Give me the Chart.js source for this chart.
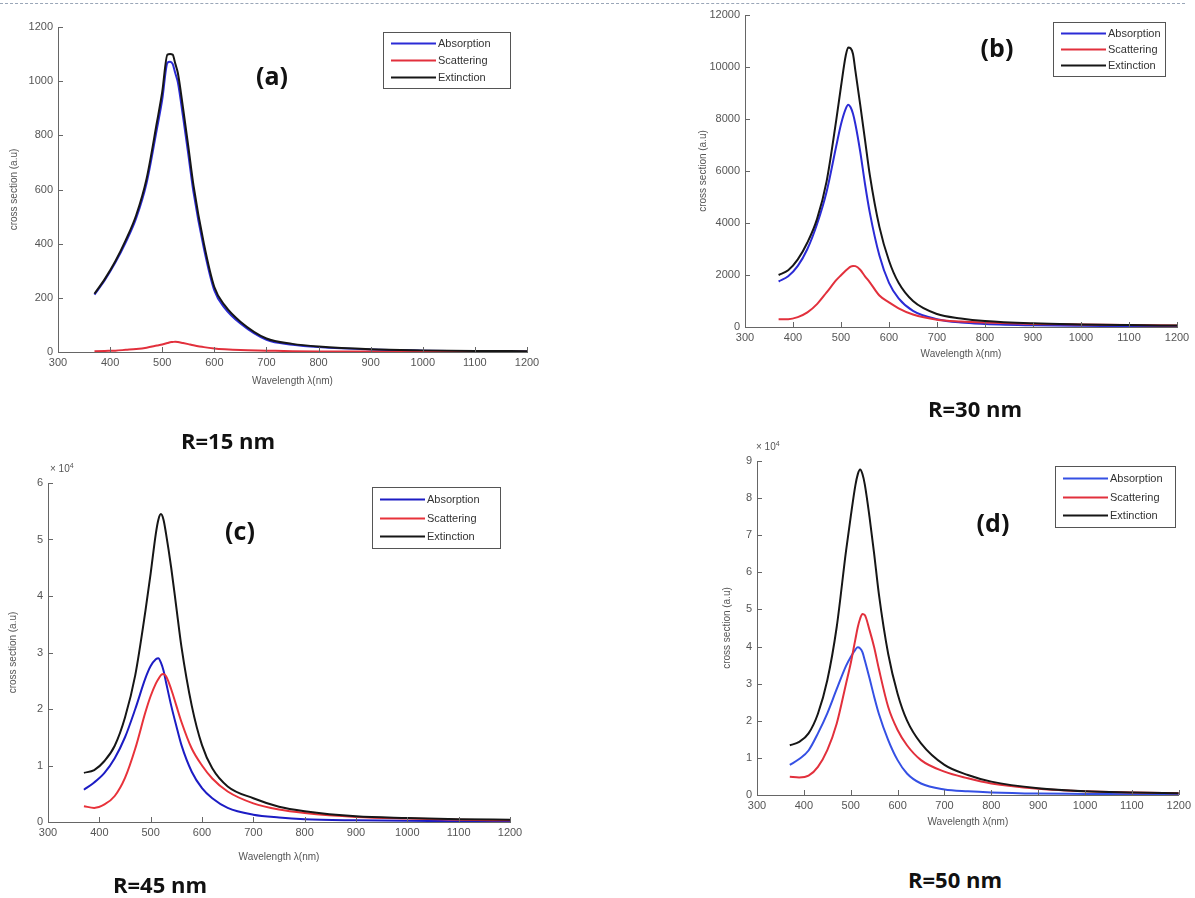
<!DOCTYPE html>
<html>
<head>
<meta charset="utf-8">
<script src="https://cdn.jsdelivr.net/npm/chart.js@4.4.1/dist/chart.umd.min.js"></script>
<style>
  body { margin: 0; background: #fff; }
  #page { position: relative; width: 1195px; height: 898px; overflow: hidden; }
  .panel { position: absolute; }
  .rule { position: absolute; left: 0; top: 3px; width: 1185px; border-top: 1px dashed #9aa6b8; }
  .tag, .size { position: absolute; transform: translate(-50%, -50%); white-space: nowrap;
    font-family: 'Open Sans', 'DejaVu Sans', sans-serif; font-weight: 700; color: #111; }
  .tag { font-size: 25px; }
  .size { font-size: 22px; }
  .mult { position: absolute; font: 10px 'Liberation Sans', Arial, sans-serif; color: #555; }
  .mult sup { font-size: 7px; }
</style>
</head>
<body>
<div id="page">
  <div class="rule"></div>

  <div class="panel" style="left:0;top:0;width:545px;height:395px"><canvas id="chartA" width="545" height="395"></canvas></div>
  <div class="panel" style="left:690px;top:0;width:505px;height:370px"><canvas id="chartB" width="505" height="370"></canvas></div>
  <div class="panel" style="left:0;top:445px;width:530px;height:425px"><canvas id="chartC" width="530" height="425"></canvas></div>
  <div class="panel" style="left:700px;top:440px;width:495px;height:400px"><canvas id="chartD" width="495" height="400"></canvas></div>

  <div class="tag" style="left:272px;top:75px">(a)</div>
  <div class="tag" style="left:997px;top:47px">(b)</div>
  <div class="tag" style="left:240px;top:530px">(c)</div>
  <div class="tag" style="left:993px;top:522px">(d)</div>

  <div class="size" style="left:228px;top:440px">R=15 nm</div>
  <div class="size" style="left:975px;top:408px">R=30 nm</div>
  <div class="size" style="left:160px;top:884px">R=45 nm</div>
  <div class="size" style="left:955px;top:879px">R=50 nm</div>

  <div class="mult" style="left:50px;top:462px">× 10<sup>4</sup></div>
  <div class="mult" style="left:756px;top:440px">× 10<sup>4</sup></div>
</div>

<script>
// wavelength samples (nm), shared by all four panels
const wavelength = [370, 390, 410, 430, 450, 470, 490, 500, 510, 515, 520, 525, 530, 540, 550,
  560, 580, 600, 620, 650, 700, 750, 800, 900, 1000, 1100, 1200];

const seriesNames = ['Absorption', 'Scattering', 'Extinction'];

// R = 15 nm
const absA = [212, 266, 330, 405, 494, 624, 826, 932, 1068, 1072, 1064, 1030, 996, 868, 731,
  590, 382, 227, 162, 105, 45, 27, 18, 9, 5, 3, 2];
const scatA = [3, 4, 5, 8, 11, 16, 24, 28, 33, 36, 37, 38, 37, 33, 29,
  25, 18, 13, 10, 7, 5, 3, 2, 1.5, 1, 1, 0.5];
const extA = [215, 270, 335, 413, 505, 640, 850, 960, 1098, 1100, 1098, 1065, 1030, 900, 760,
  615, 400, 240, 172, 112, 50, 30, 20, 10, 6, 4, 3];

// R = 30 nm
const absB = [1750, 1950, 2350, 3000, 3950, 5200, 6950, 7800, 8400, 8550, 8450, 8200, 7800, 6750, 5500,
  4400, 2750, 1700, 1100, 620, 300, 170, 120, 70, 45, 30, 20];
const scatB = [300, 300, 380, 560, 880, 1330, 1800, 1990, 2170, 2250, 2320, 2350, 2340, 2200, 1950,
  1720, 1210, 950, 720, 480, 280, 210, 170, 120, 100, 80, 60];
const extB = [2000, 2180, 2600, 3250, 4150, 5600, 7950, 9250, 10450, 10750, 10720, 10500, 9850, 8550, 7200,
  5850, 3850, 2550, 1700, 1000, 500, 330, 230, 140, 100, 75, 55];

// R = 45 nm (x 10^4)
const absC = [0.57, 0.7, 0.87, 1.13, 1.5, 2.0, 2.55, 2.76, 2.88, 2.9, 2.82, 2.68, 2.47, 2.06, 1.7,
  1.36, 0.89, 0.6, 0.42, 0.25, 0.13, 0.08, 0.05, 0.03, 0.02, 0.015, 0.01];
const scatC = [0.28, 0.25, 0.31, 0.46, 0.78, 1.3, 1.95, 2.23, 2.45, 2.53, 2.6, 2.62, 2.58, 2.35, 2.06,
  1.77, 1.3, 1.0, 0.77, 0.54, 0.33, 0.22, 0.16, 0.09, 0.06, 0.04, 0.03];
const extC = [0.87, 0.92, 1.08, 1.35, 1.85, 2.6, 3.75, 4.4, 5.1, 5.35, 5.45, 5.35, 5.1, 4.5, 3.8,
  3.1, 2.06, 1.36, 0.95, 0.63, 0.42, 0.27, 0.19, 0.1, 0.07, 0.05, 0.04];

// R = 50 nm (x 10^4)
const absD = [0.81, 0.97, 1.2, 1.66, 2.2, 2.85, 3.48, 3.72, 3.92, 3.98, 3.95, 3.85, 3.63, 3.15, 2.65,
  2.19, 1.48, 0.94, 0.58, 0.31, 0.15, 0.1, 0.07, 0.04, 0.03, 0.02, 0.01];
const scatD = [0.49, 0.47, 0.52, 0.76, 1.21, 1.92, 3.0, 3.55, 4.2, 4.52, 4.75, 4.88, 4.85, 4.45, 3.98,
  3.4, 2.37, 1.75, 1.34, 0.94, 0.63, 0.45, 0.31, 0.17, 0.1, 0.07, 0.05];
const extD = [1.34, 1.43, 1.66, 2.19, 3.09, 4.52, 6.58, 7.5, 8.35, 8.64, 8.77, 8.65, 8.37, 7.5, 6.5,
  5.42, 3.8, 2.73, 2.01, 1.39, 0.81, 0.54, 0.36, 0.18, 0.1, 0.07, 0.05];

const FONT = "'Liberation Sans', Arial, sans-serif";
const AXIS_GREY = '#666';

// matlab style: short tick marks pointing into the plot
const inwardTicks = {
  id: 'inwardTicks',
  afterDatasetsDraw(chart) {
    const { ctx, chartArea, scales: { x, y } } = chart;
    ctx.save();
    ctx.strokeStyle = AXIS_GREY;
    ctx.lineWidth = 1;
    ctx.beginPath();
    x.ticks.forEach((t) => {
      const px = Math.round(x.getPixelForValue(t.value)) + 0.5;
      ctx.moveTo(px, chartArea.bottom);
      ctx.lineTo(px, chartArea.bottom - 5);
    });
    y.ticks.forEach((t) => {
      const py = Math.round(y.getPixelForValue(t.value)) + 0.5;
      ctx.moveTo(chartArea.left, py);
      ctx.lineTo(chartArea.left + 5, py);
    });
    ctx.stroke();
    ctx.restore();
  },
};

// framed legend box with a line sample per dataset
const boxLegend = {
  id: 'boxLegend',
  afterDraw(chart, args, opts) {
    const { ctx } = chart;
    const { x, y, w, h } = opts;
    ctx.save();
    ctx.fillStyle = '#fff';
    ctx.fillRect(x, y, w, h);
    ctx.strokeStyle = '#555';
    ctx.lineWidth = 1;
    ctx.strokeRect(x + 0.5, y + 0.5, w, h);
    const rowH = h / 3.3;
    ctx.font = '11px ' + FONT;
    ctx.textBaseline = 'middle';
    chart.data.datasets.forEach((ds, i) => {
      const ry = Math.round(y + rowH * (i + 0.65)) + 0.5;
      ctx.strokeStyle = ds.borderColor;
      ctx.lineWidth = 2;
      ctx.beginPath();
      ctx.moveTo(x + 8, ry);
      ctx.lineTo(x + 53, ry);
      ctx.stroke();
      ctx.fillStyle = '#333';
      ctx.fillText(ds.label, x + 55, ry);
    });
    ctx.restore();
  },
};

function points(ys) {
  return wavelength.map((w, i) => ({ x: w, y: ys[i] }));
}

// plain numbers on the axes, no thousands separator
const plainTick = (v) => String(v);

function makePanel(id, series, colors, yMax, yStep, layout) {
  const datasets = series.map((ys, i) => ({
    label: seriesNames[i],
    data: points(ys),
    borderColor: colors[i],
    borderWidth: 2,
    pointRadius: 0,
    cubicInterpolationMode: 'monotone',
    order: 2 - i,
  }));

  return new Chart(document.getElementById(id), {
    type: 'line',
    data: { datasets },
    plugins: [inwardTicks, boxLegend],
    options: {
      responsive: false,
      animation: false,
      layout: { padding: { top: layout.padTop, right: layout.padRight, left: 0, bottom: 0 } },
      plugins: {
        legend: { display: false },
        tooltip: { enabled: false },
        boxLegend: layout.legend,
      },
      scales: {
        x: {
          type: 'linear',
          min: 300,
          max: 1200,
          grid: { display: false, drawTicks: false },
          border: { display: true, color: AXIS_GREY, width: 1 },
          ticks: { stepSize: 100, padding: 4, color: '#555', font: { family: FONT, size: 11 },
            maxRotation: 0, autoSkip: false, callback: plainTick },
          title: { display: true, text: 'Wavelength λ(nm)', color: '#555',
            font: { family: FONT, size: 10 }, padding: { top: 0, bottom: layout.xTitlePad } },
          afterFit: (s) => { s.height = layout.xHeight; },
        },
        y: {
          type: 'linear',
          min: 0,
          max: yMax,
          grid: { display: false, drawTicks: false },
          border: { display: true, color: AXIS_GREY, width: 1 },
          ticks: { stepSize: yStep, padding: 5, color: '#555', font: { family: FONT, size: 11 },
            callback: plainTick },
          title: { display: true, text: 'cross section (a.u)', color: '#555',
            font: { family: FONT, size: 10 }, padding: { top: layout.yTitlePad, bottom: 0 } },
          afterFit: (s) => { s.width = layout.yWidth; },
        },
      },
    },
  });
}

makePanel('chartA', [absA, scatA, extA], ['#2b2bd6', '#e2303c', '#161616'], 1200, 200, {
  padTop: 27, padRight: 18, yWidth: 58, xHeight: 43, xTitlePad: 8, yTitlePad: 8,
  legend: { x: 383, y: 32, w: 127, h: 56 },
});

makePanel('chartB', [absB, scatB, extB], ['#2b2bd6', '#e2303c', '#161616'], 12000, 2000, {
  padTop: 15, padRight: 18, yWidth: 55, xHeight: 43, xTitlePad: 10, yTitlePad: 7,
  legend: { x: 363, y: 22, w: 112, h: 54 },
});

makePanel('chartC', [absC, scatC, extC], ['#1c1cc4', '#e8323a', '#161616'], 6, 1, {
  padTop: 38, padRight: 20, yWidth: 48, xHeight: 48, xTitlePad: 7, yTitlePad: 7,
  legend: { x: 372, y: 42, w: 128, h: 61 },
});

makePanel('chartD', [absD, scatD, extD], ['#3550e4', '#e2303c', '#161616'], 9, 1, {
  padTop: 21, padRight: 15, yWidth: 57, xHeight: 45, xTitlePad: 12, yTitlePad: 21,
  legend: { x: 355, y: 26, w: 120, h: 61 },
});
</script>
</body>
</html>
